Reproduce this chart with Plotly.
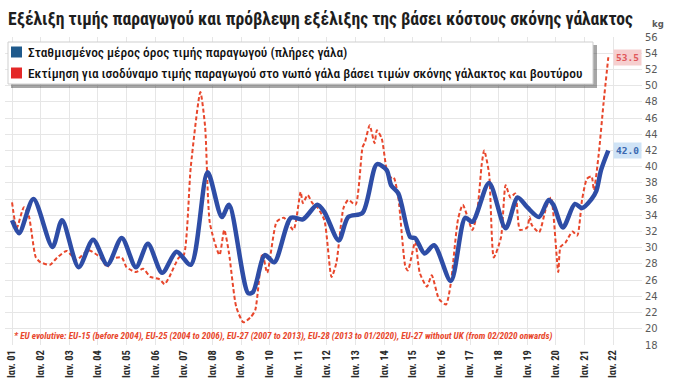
import plotly.graph_objects as go

# ---------------- data ----------------
blue_dates = ["2001-01", "2001-04", "2001-10", "2002-06", "2002-10", "2003-05", "2003-11",
              "2004-05", "2004-11", "2005-05", "2005-10", "2006-04", "2006-10", "2007-04",
              "2007-11", "2008-05", "2008-08", "2009-04", "2009-06", "2009-11", "2010-03",
              "2010-10", "2011-03", "2011-09", "2011-12", "2012-06", "2012-10", "2013-04",
              "2013-10", "2014-02", "2014-04", "2014-07", "2014-12", "2015-02", "2015-06",
              "2015-10", "2016-05", "2016-11", "2017-02", "2017-09", "2018-04", "2018-09",
              "2019-01", "2019-06", "2019-10", "2019-12", "2020-04", "2020-09", "2020-12",
              "2021-04", "2021-06", "2021-08", "2021-11"]
blue_vals = [33.4, 31.8, 36.0, 30.1, 33.4, 27.6, 31.0,
             27.9, 31.2, 27.6, 30.5, 26.9, 29.5, 27.9,
             39.3, 33.8, 35.3, 24.4, 24.5, 29.1, 28.2,
             33.7, 33.5, 35.3, 34.4, 30.9, 33.8, 34.3,
             40.3, 39.6, 37.7, 36.7, 31.3, 31.2, 29.3,
             30.3, 25.9, 33.7, 33.2, 38.0, 32.4, 36.2,
             35.0, 33.8, 35.9, 35.3, 32.5, 35.4, 34.9,
             36.0, 37.0, 39.6, 42.0]

red_dates = ["2001-01", "2001-03", "2001-06", "2001-08", "2001-11", "2002-01", "2002-05",
             "2002-08", "2002-12", "2003-04", "2003-09", "2004-02", "2004-05", "2004-07",
             "2004-11", "2005-01", "2005-05", "2005-08", "2005-11", "2006-03", "2006-05",
             "2006-07", "2006-11", "2007-01", "2007-04", "2007-08", "2007-10", "2007-12",
             "2008-04", "2008-06", "2008-08", "2008-11", "2009-02", "2009-05", "2009-07",
             "2009-10", "2009-12", "2010-04", "2010-07", "2010-11", "2011-02", "2011-03",
             "2011-05", "2011-07", "2011-09", "2011-12", "2012-03", "2012-05", "2012-08",
             "2012-10", "2013-01", "2013-04", "2013-05", "2013-07", "2013-09", "2013-10",
             "2013-12", "2014-03", "2014-05", "2014-07", "2014-10", "2014-11", "2015-02",
             "2015-04", "2015-07", "2015-09", "2015-12", "2016-03", "2016-05", "2016-08",
             "2016-10", "2017-02", "2017-04", "2017-06", "2017-07", "2017-09", "2017-11",
             "2018-02", "2018-04", "2018-06", "2018-08", "2018-10", "2019-01", "2019-02",
             "2019-03", "2019-06", "2019-09", "2019-11", "2020-02", "2020-03", "2020-05",
             "2020-08", "2020-10", "2020-12", "2021-02", "2021-04", "2021-05", "2021-07",
             "2021-09", "2021-11"]
red_vals = [35.6, 32.4, 35.0, 34.0, 28.8, 28.2, 27.9,
            28.8, 29.6, 28.5, 29.7, 28.8, 27.6, 28.6,
            28.8, 27.6, 27.0, 27.4, 26.4, 26.1, 25.5,
            26.4, 28.8, 29.1, 40.0, 49.2, 44.9, 33.0,
            29.1, 32.2, 29.3, 22.7, 20.8, 21.4, 22.3,
            29.3, 26.9, 33.2, 33.7, 32.2, 36.9, 35.5,
            36.5, 35.5, 35.0, 33.4, 26.4, 28.1, 34.9,
            35.9, 35.3, 42.4, 43.0, 45.1, 42.9, 44.5,
            43.5, 38.6, 38.7, 36.2, 27.6, 27.2, 30.7,
            26.9, 25.2, 26.6, 23.7, 23.0, 25.6, 33.5,
            35.3, 32.2, 34.3, 40.4, 42.0, 39.2, 28.8,
            31.3, 37.7, 36.2, 36.7, 32.2, 32.5, 33.8,
            32.8, 31.9, 35.0, 36.2, 27.0, 30.1, 30.6,
            32.0, 31.5, 35.9, 38.5, 38.8, 37.1, 41.5,
            47.8, 53.5]

years = list(range(2001, 2023))
tick_text = ["Ιαν. %02d" % (y % 100) for y in years]
y_ticks = list(range(18, 58, 2))

title = "Εξέλιξη τιμής παραγωγού και πρόβλεψη εξέλιξης της βάσει κόστους σκόνης γάλακτος"
legend_blue = "Σταθμισμένος μέρος όρος τιμής παραγωγού (πλήρες γάλα)"
legend_red = "Εκτίμηση για ισοδύναμο τιμής παραγωγού στο νωπό γάλα βάσει τιμών σκόνης γάλακτος και βουτύρου"
footnote = ("* EU evolutive: EU-15 (before 2004), EU-25 (2004 to 2006), EU-27 (2007 to 2013), "
            "EU-28 (2013 to 01/2020), EU-27 without UK (from 02/2020 onwards)")

BLUE = "#2e4da6"
RED = "#e8472c"
COND = "Roboto Condensed, Roboto, sans-serif"

# ---------------- geometry ----------------
W, H = 675, 383
L, R, T, B = 5, 33, 37, 38
PW, PH = W - L - R, H - T - B


def px(x):
    return (x - L) / PW


def py(y):
    return (H - B - y) / PH


fig = go.Figure()
fig.add_trace(go.Scatter(x=red_dates, y=red_vals, mode="lines",
                         line=dict(color=RED, width=2, dash="4px,2.5px", shape="spline", smoothing=0.6),
                         showlegend=False, hoverinfo="x+y"))
fig.add_trace(go.Scatter(x=blue_dates, y=blue_vals, mode="lines",
                         line=dict(color=BLUE, width=4.5, shape="spline", smoothing=0.8),
                         showlegend=False, hoverinfo="x+y"))

fig.update_layout(
    width=W, height=H,
    margin=dict(l=L, r=R, t=T, b=B),
    paper_bgcolor="white", plot_bgcolor="white",
    title=dict(text="<b>" + title + "</b>", x=8 / W, xanchor="left", xref="container",
               y=1 - 19 / H, yanchor="middle", yref="container",
               font=dict(family=COND, size=17.6, color="#1e1e1e")),
    xaxis=dict(type="date", range=["2000-10-03", "2023-01-05"],
               tickvals=["%d-01-01" % y for y in years], ticktext=tick_text,
               tickangle=-90, showgrid=True, gridcolor="#e6e6e6", gridwidth=1,
               zeroline=False, showline=False, ticks="", ticklabelstandoff=2,
               tickfont=dict(family=COND, size=10.5, color="#2a2a2a", weight="bold")),
    yaxis=dict(side="right", range=[18, 56], tickvals=y_ticks,
               showgrid=True, gridcolor="#e6e6e6", gridwidth=1,
               zeroline=False, showline=False, ticks="", ticklabelstandoff=2,
               tickfont=dict(family="DejaVu Sans, sans-serif", size=10, color="#5a5a5a")),
)

# kg unit
fig.add_annotation(x=px(650), y=py(24), xref="paper", yref="paper", xanchor="left", yanchor="middle",
                   text="<b>kg</b>", showarrow=False,
                   font=dict(family="DejaVu Sans, sans-serif", size=8.5, color="#5a5a5a"))

# legend box with shadow
fig.add_shape(type="rect", xref="paper", yref="paper", x0=px(11), x1=px(597), y0=py(88), y1=py(45),
              line=dict(width=0), fillcolor="rgba(0,0,0,0.35)", layer="above")
fig.add_shape(type="rect", xref="paper", yref="paper", x0=px(8), x1=px(593), y0=py(84), y1=py(42),
              line=dict(color="#cfcfcf", width=1), fillcolor="white", layer="above")
fig.add_shape(type="rect", xref="paper", yref="paper", x0=px(11), x1=px(22), y0=py(57.5), y1=py(46.5),
              line=dict(width=0), fillcolor="#1f5a8c", layer="above")
fig.add_shape(type="rect", xref="paper", yref="paper", x0=px(11), x1=px(22), y0=py(78.5), y1=py(67.5),
              line=dict(width=0), fillcolor="#e42828", layer="above")
fig.add_annotation(x=px(26), y=py(52), xref="paper", yref="paper", xanchor="left", yanchor="middle",
                   text=legend_blue, showarrow=False,
                   font=dict(family=COND, size=13.4, color="#111111", weight=500))
fig.add_annotation(x=px(26), y=py(73), xref="paper", yref="paper", xanchor="left", yanchor="middle",
                   text=legend_red, showarrow=False,
                   font=dict(family=COND, size=13.4, color="#111111", weight=500))

# end-value labels
fig.add_annotation(x=red_dates[-1], y=red_vals[-1], xref="x", yref="y", xanchor="left", yanchor="middle",
                   xshift=5, text="<b>%.1f</b>" % red_vals[-1], showarrow=False, bgcolor="#f6cfcf",
                   borderpad=2, font=dict(family="DejaVu Sans Mono, monospace", size=9.5, color="#e0575a"))
fig.add_annotation(x=blue_dates[-1], y=blue_vals[-1], xref="x", yref="y", xanchor="left", yanchor="middle",
                   xshift=5, text="<b>%.1f</b>" % blue_vals[-1], showarrow=False, bgcolor="#cfe3f6",
                   borderpad=2, font=dict(family="DejaVu Sans Mono, monospace", size=9.5, color="#3a68b0"))

# footnote
fig.add_annotation(x=px(12), y=py(336), xref="paper", yref="paper", xanchor="left", yanchor="middle",
                   text="<b><i>" + footnote + "</i></b>", showarrow=False,
                   font=dict(family=COND, size=9.2, color="#e8472c"))

fig.write_html("out.html", config={"displayModeBar": False},
               post_script="document.body.style.margin='0';document.body.style.padding='0';")
